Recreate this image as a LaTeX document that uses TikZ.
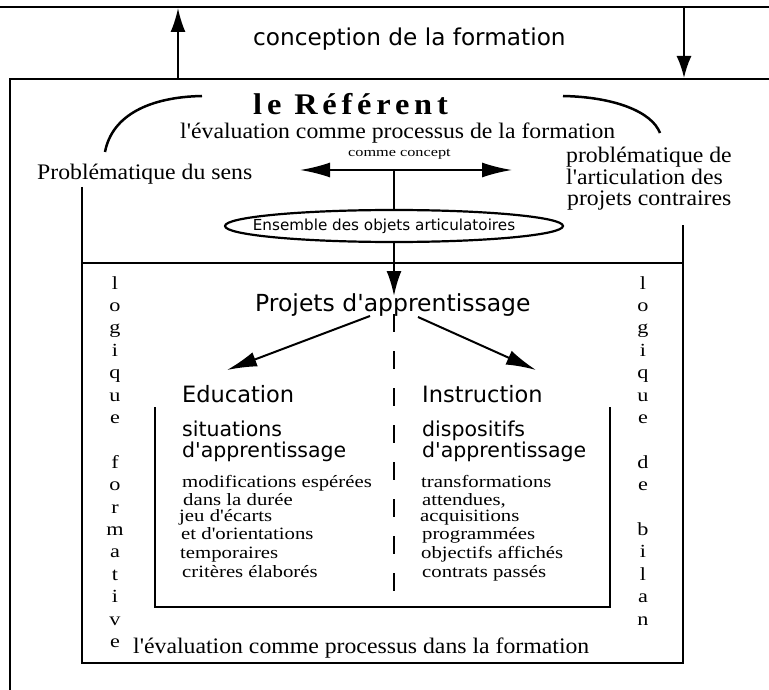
\documentclass[tikz,border=0pt]{standalone}
\usepackage{fontspec}
\newfontfamily\serf{Liberation Serif}[FakeStretch=1.07]
\newfontfamily\sansf{DejaVu Sans}
\newfontfamily\listf{Liberation Serif}[FakeStretch=1.2]
\newfontfamily\widef{Liberation Serif}[FakeStretch=1.25]
\newfontfamily\titlef{Liberation Serif}[FakeStretch=1.08,LetterSpace=16]
\usetikzlibrary{arrows.meta,shapes.geometric}
\begin{document}
\begin{tikzpicture}[x=1pt,y=-1pt,
  txt/.style={inner sep=0pt,anchor=base west},
  serifmain/.style={txt,font=\serf\fontsize{22.2}{26}\selectfont},
  lst/.style={txt,font=\listf\fontsize{17.3}{20}\selectfont},
  vl/.style={inner sep=0pt,anchor=base,font=\listf\fontsize{18.5}{20}\selectfont},
  sansbig/.style={txt,font=\sansf\fontsize{23.2}{27}\selectfont},
  sansmid/.style={txt,font=\sansf\fontsize{20.5}{24}\selectfont},
  bx/.style={line width=2.5pt},
  ln/.style={line width=2pt},
  arr/.style={line width=2pt,-{Latex[length=#1,width=15pt]}},
]
\fill[white] (0,0) rectangle (769,690);
\useasboundingbox (0,0) rectangle (769,690);
\clip (0,0) rectangle (769,690);

% outer frame
\draw[bx] (-5,7) -- (775,7);
\draw[bx] (10,700) -- (10,79) -- (775,79);
\coordinate (upS) at (178,79); \coordinate (upE) at (178,8);
\draw[arr=24pt] (upS) -- (upE);
\coordinate (dnS) at (684,8); \coordinate (dnE) at (684,78);
\draw[arr=22pt] (dnS) -- (dnE);
\node[sansbig] (conc) at (253,46) {conception de la formation};

% referent
\node[txt,font=\titlef\bfseries\fontsize{30}{34}\selectfont] (ref) at (253,115) {le Référent};
\draw[bx] (105,152) .. controls (112,115) and (150,97) .. (202,96);
\draw[bx] (563,96) .. controls (615,97) and (652,112) .. (660,133);
\node[serifmain] (evf) at (180,139) {l'évaluation comme processus de la formation};
\node[txt,font=\widef\fontsize{13}{15}\selectfont] (cc) at (348,157) {comme concept};
\node[serifmain] (sens) at (37,179) {Problématique du sens};
\node[serifmain] (pa1) at (566,163) {problématique de};
\node[serifmain] (pa2) at (566,184.5) {l'articulation des};
\node[serifmain] (pa3) at (567,206) {projets contraires};

\coordinate (jn) at (394,170);
\coordinate (la) at (300,170);
\coordinate (ra) at (512,170);
\draw[arr=30pt] (jn) -- (la);
\draw[arr=30pt] (jn) -- (ra);

\node[ellipse,draw,line width=2.2pt,minimum width=338pt,minimum height=32pt,inner sep=0pt] (ens) at (394,226) {};
\node[inner sep=0pt,anchor=base,font=\sansf\fontsize{15.2}{18}\selectfont] (enst) at (384,230) {Ensemble des objets articulatoires};
\draw[ln] (jn) -- (jn |- ens.north);

% inner box
\draw[bx] (82,187) -- (82,663) -- (683,663) -- (683,225);
\draw[bx] (82,263) -- (683,263);

\coordinate (ptip) at (394,296);
\draw[arr=25pt] (jn |- ens.south) -- (ptip);
\node[txt,font=\sansf\fontsize{23.5}{27}\selectfont] (proj) at (255,311) {Projets d'apprentissage};
\draw[line width=2.7pt,dash pattern=on 18pt off 19pt] (394,314) -- (394,591);

\coordinate (dl0) at (370,316); \coordinate (dl1) at (227,370);
\coordinate (dr0) at (418,317); \coordinate (dr1) at (536,370);
\draw[arr=30pt] (dl0) -- (dl1);
\draw[arr=30pt] (dr0) -- (dr1);

\node[txt,font=\sansf\fontsize{22.5}{26}\selectfont] (edu) at (182,402) {Education};
\node[txt,font=\sansf\fontsize{22.5}{26}\selectfont] (ins) at (422,402) {Instruction};
\node[sansmid] (sit1) at (182,436) {situations};
\node[sansmid] (sit2) at (182,457) {d'apprentissage};
\node[sansmid] (dis1) at (422,436) {dispositifs};
\node[sansmid] (dis2) at (422,457) {d'apprentissage};

\draw[bx] (155,407) -- (155,607) -- (610,607) -- (610,407);

\node[lst] (m1) at (182,487) {modifications espérées};
\node[lst] (m2) at (183,505) {dans la durée};
\node[lst] (m3) at (179,521) {jeu d'écarts};
\node[lst] (m4) at (181,539) {et d'orientations};
\node[lst] (m5) at (180,558) {temporaires};
\node[lst] (m6) at (182,577) {critères élaborés};

\node[lst] (t1) at (421,487) {transformations};
\node[lst] (t2) at (422,505) {attendues,};
\node[lst] (t3) at (420,521) {acquisitions};
\node[lst] (t4) at (422,539) {programmées};
\node[lst] (t5) at (421,558) {objectifs affichés};
\node[lst] (t6) at (422,577) {contrats passés};

% vertical words
\foreach \ch [count=\i from 0] in {l,o,g,i,q,u,e}
  \node[vl] (gl\i) at (115,{289+22.4*\i}) {\ch};
\foreach \ch [count=\i from 8] in {f,o,r,m,a,t,i,v,e}
  \node[vl] (gf\i) at (115,{289+22.4*\i}) {\ch};
\foreach \ch [count=\i from 0] in {l,o,g,i,q,u,e}
  \node[vl] (dl\i) at (643,{289+22.4*\i}) {\ch};
\foreach \ch [count=\i from 8] in {d,e}
  \node[vl] (dd\i) at (643,{289+22.4*\i}) {\ch};
\foreach \ch [count=\i from 11] in {b,i,l,a,n}
  \node[vl] (db\i) at (643,{289+22.4*\i}) {\ch};

\node[serifmain] (evd) at (133,653) {l'évaluation comme processus dans la formation};
\end{tikzpicture}
\end{document}
